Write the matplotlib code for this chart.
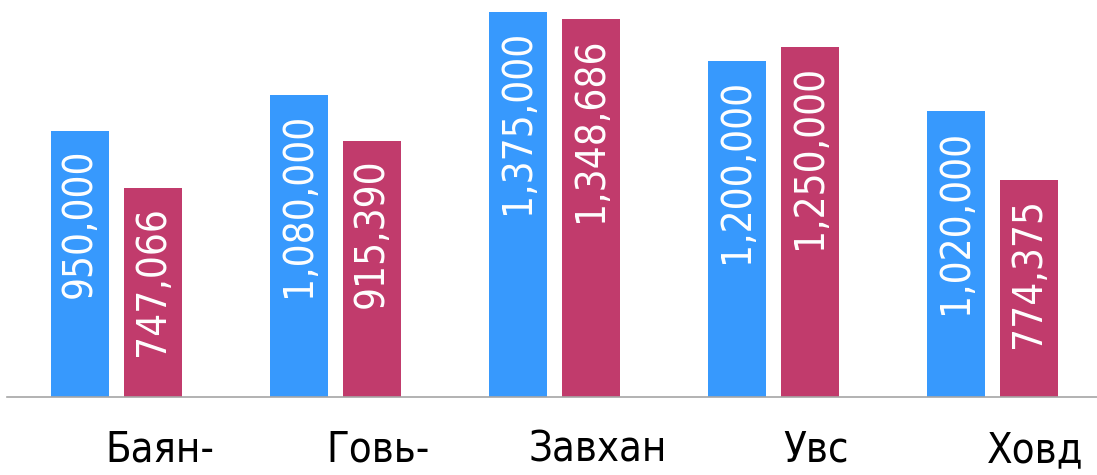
import matplotlib
matplotlib.use("Agg")
import matplotlib.pyplot as plt
import numpy as np
from matplotlib.transforms import ScaledTranslation

categories = ["Баян-", "Говь-", "Завхан", "Увс", "Ховд"]
series_a = [950000, 1080000, 1375000, 1200000, 1020000]
series_b = [747066, 915390, 1348686, 1250000, 774375]

color_a = "#3799FD"
color_b = "#C13B6C"

W, H = 1097, 475
fig = plt.figure(figsize=(W / 100, H / 100), dpi=100)
ax = fig.add_axes([7 / W, (H - 397) / H, 1090 / W, 397 / H])

x = np.arange(len(categories))
bw = 58 / 219
off = 36.5 / 219
bars_a = ax.bar(x - off, series_a, width=bw, color=color_a)
bars_b = ax.bar(x + off, series_b, width=bw, color=color_b)

ax.set_xlim(-0.5, -0.5 + 1090 / 219)
ax.set_ylim(0, 397 / 280 * 1e6)

font = dict(family="DejaVu Sans", stretch="condensed")
down = ScaledTranslation(0, -18 / 100, fig.dpi_scale_trans)
for bars, vals in ((bars_a, series_a), (bars_b, series_b)):
    for b, v in zip(bars, vals):
        ax.text(b.get_x() + b.get_width() / 2, v, f"{v:,}", rotation=90,
                ha="center", va="top", color="white", fontsize=29,
                transform=ax.transData + down, **font)

for s in ("left", "right", "top"):
    ax.spines[s].set_visible(False)
ax.spines["bottom"].set_color("#A6A6A6")
ax.spines["bottom"].set_linewidth(1.2)
ax.set_yticks([])
ax.set_xticks(x)
ax.set_xticklabels(categories, fontsize=30, **font)
ax.tick_params(axis="x", length=0, pad=23)
shift = ScaledTranslation(43 / 100, 0, fig.dpi_scale_trans)
for lbl in ax.get_xticklabels():
    lbl.set_transform(lbl.get_transform() + shift)

fig.savefig("out.png", dpi=100)
